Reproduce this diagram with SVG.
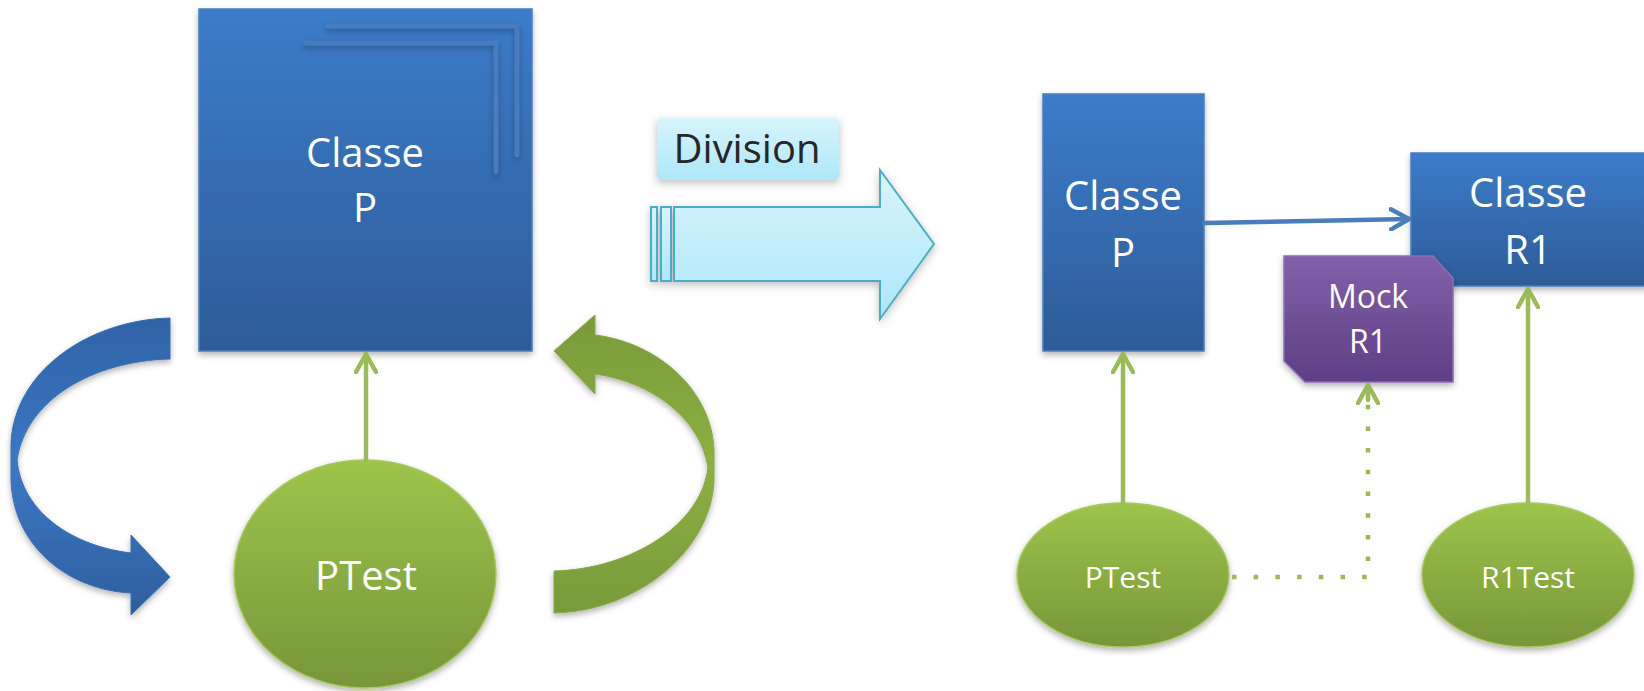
<svg xmlns="http://www.w3.org/2000/svg" width="1644" height="691" viewBox="0 0 1644 691">
  <defs>
    <linearGradient id="gBlue" x1="0" y1="0" x2="0" y2="1">
      <stop offset="0" stop-color="#3c7cca"/>
      <stop offset="1" stop-color="#2d5c98"/>
    </linearGradient>
    <linearGradient id="gGreen" x1="0" y1="0" x2="0" y2="1">
      <stop offset="0" stop-color="#9dc44b"/>
      <stop offset="1" stop-color="#77963a"/>
    </linearGradient>
    <linearGradient id="gGreenArc" x1="0" y1="0" x2="0" y2="1">
      <stop offset="0" stop-color="#789a38"/>
      <stop offset="0.5" stop-color="#8cb042"/>
      <stop offset="1" stop-color="#799a3a"/>
    </linearGradient>
    <linearGradient id="gBlueArc" x1="0" y1="0" x2="0" y2="1">
      <stop offset="0" stop-color="#2f63a6"/>
      <stop offset="0.5" stop-color="#3b78c4"/>
      <stop offset="1" stop-color="#2e5f9e"/>
    </linearGradient>
    <linearGradient id="gPurple" x1="0" y1="0" x2="0" y2="1">
      <stop offset="0" stop-color="#8260aa"/>
      <stop offset="1" stop-color="#5e3f85"/>
    </linearGradient>
    <linearGradient id="gCyan" x1="0" y1="0" x2="0" y2="1">
      <stop offset="0" stop-color="#d8f4fd"/>
      <stop offset="1" stop-color="#ade7f8"/>
    </linearGradient>
    <filter id="shadow" x="-10%" y="-10%" width="130%" height="130%">
      <feDropShadow dx="0" dy="3" stdDeviation="3" flood-color="#000" flood-opacity="0.3"/>
    </filter>
    <filter id="softShadow" x="-10%" y="-20%" width="130%" height="160%">
      <feDropShadow dx="0" dy="3" stdDeviation="4" flood-color="#000" flood-opacity="0.25"/>
    </filter>
    <marker id="headGreen" viewBox="0 0 24 24" refX="20" refY="12" markerWidth="24" markerHeight="24" markerUnits="userSpaceOnUse" orient="auto">
      <path d="M2,2 L20,12 L2,22" fill="none" stroke="#9bbb59" stroke-width="4.5" stroke-linecap="round" stroke-linejoin="round"/>
    </marker>
    <marker id="headBlue" viewBox="0 0 24 24" refX="20" refY="12" markerWidth="24" markerHeight="24" markerUnits="userSpaceOnUse" orient="auto">
      <path d="M2,2 L20,12 L2,22" fill="none" stroke="#4a7ebb" stroke-width="4.5" stroke-linecap="round" stroke-linejoin="round"/>
    </marker>
    <style>
      .box { fill: url(#gBlue); stroke: #4a7ebb; stroke-width: 1.5; filter: url(#shadow); }
      .oval { fill: url(#gGreen); stroke: #a6c85e; stroke-width: 1.5; filter: url(#shadow); }
      .label { font-family: "Open Sans", "Noto Sans", sans-serif; fill: #ffffff; text-anchor: middle; }
      .big { font-size: 40px; }
      .mid { font-size: 32px; }
      .small { font-size: 30px; }
      .link { fill: none; stroke: #9bbb59; stroke-width: 4.5; stroke-linecap: round; }
    </style>
  </defs>

  <rect width="1644" height="691" fill="#ffffff"/>

  <!-- left cycle: class and its test -->
  <g id="classP-left">
    <rect class="box" x="199" y="9" width="333" height="342"/>
    <polyline points="327,26 517,26 517,155" fill="none" stroke="#4a7cbe" stroke-width="4.5" stroke-linecap="round" filter="url(#shadow)"/>
    <polyline points="305,43 496,43 496,172" fill="none" stroke="#4a7cbe" stroke-width="4.5" stroke-linecap="round" filter="url(#shadow)"/>
    <text class="label big" x="365" y="167">Classe</text>
    <text class="label big" x="365" y="222">P</text>
  </g>

  <g id="ptest-left">
    <ellipse class="oval" cx="365" cy="574" rx="131" ry="114"/>
    <text class="label big" x="366" y="590">PTest</text>
  </g>

  <g id="cycle-blue">
    <path d="M170,577 L131,535 L131,553 C72,546 22,512 17,460 C26,400 92,361 170,359 L170,318 C88,320 13,372 11,445 L11,480 C13,546 68,590 131,593 L131,615 Z" fill="url(#gBlueArc)" stroke="#3a6fb0" stroke-width="1" filter="url(#shadow)"/>
  </g>

  <g id="cycle-green">
    <path d="M554,351 L595,315 L595,335 C660,343 712,392 714,450 L714,480 C712,548 640,611 554,613 L554,571 C632,569 702,524 708,467 C700,418 652,382 595,374 L595,394 Z" fill="url(#gGreenArc)" stroke="#86a845" stroke-width="1" filter="url(#shadow)"/>
  </g>

  <!-- transition -->
  <g id="division-label">
    <rect x="657" y="118" width="182" height="62" rx="4" fill="url(#gCyan)" filter="url(#softShadow)"/>
    <text x="747" y="163" font-family="Open Sans, Noto Sans, sans-serif" font-size="40" fill="#262626" text-anchor="middle">Division</text>
  </g>

  <g id="division-arrow" fill="url(#gCyan)" stroke="#4bacc6" stroke-width="2" filter="url(#softShadow)">
    <rect x="651" y="207" width="6" height="74"/>
    <rect x="661" y="207" width="10" height="74"/>
    <path d="M674,207 L880,207 L880,170 L934,244 L880,319 L880,281 L674,281 Z"/>
  </g>

  <!-- right side: split classes -->
  <g id="classP-right">
    <rect class="box" x="1043" y="94" width="161" height="257"/>
    <text class="label big" x="1123" y="210">Classe</text>
    <text class="label big" x="1123" y="267">P</text>
  </g>

  <g id="classR1">
    <rect class="box" x="1411" y="153" width="240" height="133"/>
    <text class="label big" x="1528" y="207">Classe</text>
    <text class="label big" x="1528" y="264">R1</text>
  </g>

  <g id="mockR1">
    <path d="M1284,256 L1433,256 L1453,278 L1453,382 L1305,382 L1284,361 Z" fill="url(#gPurple)" stroke="#8c6cb4" stroke-width="1.5" filter="url(#shadow)"/>
    <text class="label mid" x="1368" y="308">Mock</text>
    <text class="label mid" x="1368" y="353">R1</text>
  </g>

  <g id="ptest-right">
    <ellipse class="oval" cx="1123" cy="575" rx="106" ry="72"/>
    <text class="label small" x="1123" y="588">PTest</text>
  </g>

  <g id="r1test">
    <ellipse class="oval" cx="1528" cy="575" rx="106" ry="72"/>
    <text class="label small" x="1528" y="588">R1Test</text>
  </g>

  <g id="connectors">
    <line class="link" x1="366" y1="460" x2="366" y2="354" marker-end="url(#headGreen)"/>
    <line x1="1204" y1="223" x2="1409" y2="219" stroke="#4a7ebb" stroke-width="4.5" stroke-linecap="round" marker-end="url(#headBlue)"/>
    <line class="link" x1="1123" y1="503" x2="1123" y2="354" marker-end="url(#headGreen)"/>
    <line class="link" x1="1528" y1="503" x2="1528" y2="289" marker-end="url(#headGreen)"/>
    <polyline points="1232,577 1368,577 1368,402" fill="none" stroke="#9bbb59" stroke-width="4.5" stroke-dasharray="4.5 17.2"/>
    <line class="link" x1="1368" y1="400" x2="1368" y2="385" marker-end="url(#headGreen)"/>
  </g>
</svg>
